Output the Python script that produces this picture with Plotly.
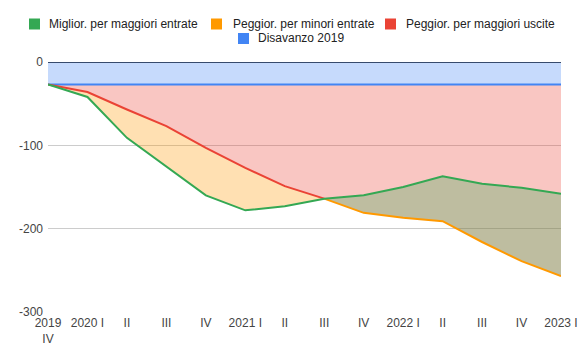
import plotly.graph_objects as go

# ---- data ----
quarters = ["2019<br>IV", "2020 I", "II", "III", "IV", "2021 I", "II", "III",
            "IV", "2022 I", "II", "III", "IV", "2023 I"]
disavanzo_2019 = [-27, -27, -27, -27, -27, -27, -27, -27, -27, -27, -27, -27, -27, -27]
saldo = [-27, -42, -91, -125, -160, -178, -173, -164, -160, -150, -137, -146, -151, -158]
uscite = [-27, -36, -57, -77, -103, -127, -149, -164, -181, -187, -191, -216, -239, -257]
y_ticks = [0, -100, -200, -300]
y_tick_labels = ["0", "-100", "-200", "-300"]

names = ["Miglior. per maggiori entrate", "Peggior. per minori entrate",
         "Peggior. per maggiori uscite", "Disavanzo 2019"]
GREEN, ORANGE, RED, BLUE = "#34a853", "#ff9900", "#ea4335", "#4285f4"

W, H = 580, 359
ML, MR, MT, MB = 48, 19, 62, 47

x = list(range(len(quarters)))
zero = [0 for _ in x]
lower_env = [min(s, u) for s, u in zip(saldo, uscite)]
upper_env = [max(s, u) for s, u in zip(saldo, uscite)]
red_line = [u if u >= s else None for s, u in zip(saldo, uscite)]
orange_line = [u if u <= s else None for s, u in zip(saldo, uscite)]

fig = go.Figure()
nofill = dict(mode="lines", line=dict(width=0), hoverinfo="skip", showlegend=False)

# blue area
fig.add_trace(go.Scatter(x=x, y=zero, **nofill))
fig.add_trace(go.Scatter(x=x, y=disavanzo_2019, fill="tonexty",
                         fillcolor="rgba(66,133,244,0.3)", **nofill))
# red area
fig.add_trace(go.Scatter(x=x, y=uscite, fill="tonexty",
                         fillcolor="rgba(234,67,53,0.3)", **nofill))
# orange area
fig.add_trace(go.Scatter(x=x, y=uscite, **nofill))
fig.add_trace(go.Scatter(x=x, y=lower_env, fill="tonexty",
                         fillcolor="rgba(255,153,0,0.3)", **nofill))
# green area
fig.add_trace(go.Scatter(x=x, y=uscite, **nofill))
fig.add_trace(go.Scatter(x=x, y=upper_env, fill="tonexty",
                         fillcolor="rgba(52,168,83,0.3)", **nofill))

# lines
line_kw = dict(mode="lines", hoverinfo="skip", showlegend=False, connectgaps=False)
fig.add_trace(go.Scatter(x=x, y=disavanzo_2019, line=dict(color=BLUE, width=2), **line_kw))
fig.add_trace(go.Scatter(x=x, y=red_line, line=dict(color=RED, width=2), **line_kw))
fig.add_trace(go.Scatter(x=x, y=orange_line, line=dict(color=ORANGE, width=2), **line_kw))
fig.add_trace(go.Scatter(x=x, y=saldo, line=dict(color=GREEN, width=2), **line_kw))

# ---- manual legend (pixel layout converted to paper coords) ----
def px_x(p):
    return (p - ML) / (W - ML - MR)

def px_y(p):
    return (H - MB - p) / (H - MT - MB)

legend_layout = [  # (square left px, text left px, row centre px)
    (29, 48, 24),
    (211, 232, 24),
    (385, 405, 24),
    (238, 257, 38.5),
]
SQ = 11
shapes, annotations = [], []
for name, color, (sx, tx, cy) in zip(names, [GREEN, ORANGE, RED, BLUE], legend_layout):
    shapes.append(dict(type="rect", xref="paper", yref="paper",
                       x0=px_x(sx), x1=px_x(sx + SQ),
                       y0=px_y(cy + SQ / 2), y1=px_y(cy - SQ / 2),
                       fillcolor=color, line=dict(width=0), layer="above"))
    annotations.append(dict(xref="paper", yref="paper", x=px_x(tx), y=px_y(cy),
                            text=name, showarrow=False, xanchor="left",
                            yanchor="middle", xshift=-1,
                            font=dict(family="Arial, Liberation Sans, sans-serif",
                                      size=12, color="#222222")))

font = dict(family="Arial, Liberation Sans, sans-serif", size=12, color="#444444")
fig.update_layout(
    width=W, height=H,
    margin=dict(l=ML, r=MR, t=MT, b=MB, autoexpand=False),
    paper_bgcolor="white", plot_bgcolor="white",
    font=font, showlegend=False,
    shapes=shapes, annotations=annotations,
    xaxis=dict(range=[0, len(quarters) - 1], tickmode="array", tickvals=x,
               ticktext=quarters, showgrid=False, zeroline=False, showline=False,
               ticks="", tickfont=font, fixedrange=True, automargin=False,
               ticklabelstandoff=2),
    yaxis=dict(range=[-300, 0], tickmode="array", tickvals=y_ticks,
               ticktext=y_tick_labels, showgrid=True, gridcolor="#cccccc",
               gridwidth=1, zeroline=True, zerolinecolor="#333333", zerolinewidth=1,
               showline=False, ticks="", tickfont=font, fixedrange=True,
               automargin=False, ticklabelstandoff=4),
    hovermode=False,
)
fig.write_html("out.html", config={"staticPlot": True},
               post_script="document.body.style.margin='0';document.body.style.padding='0';")
